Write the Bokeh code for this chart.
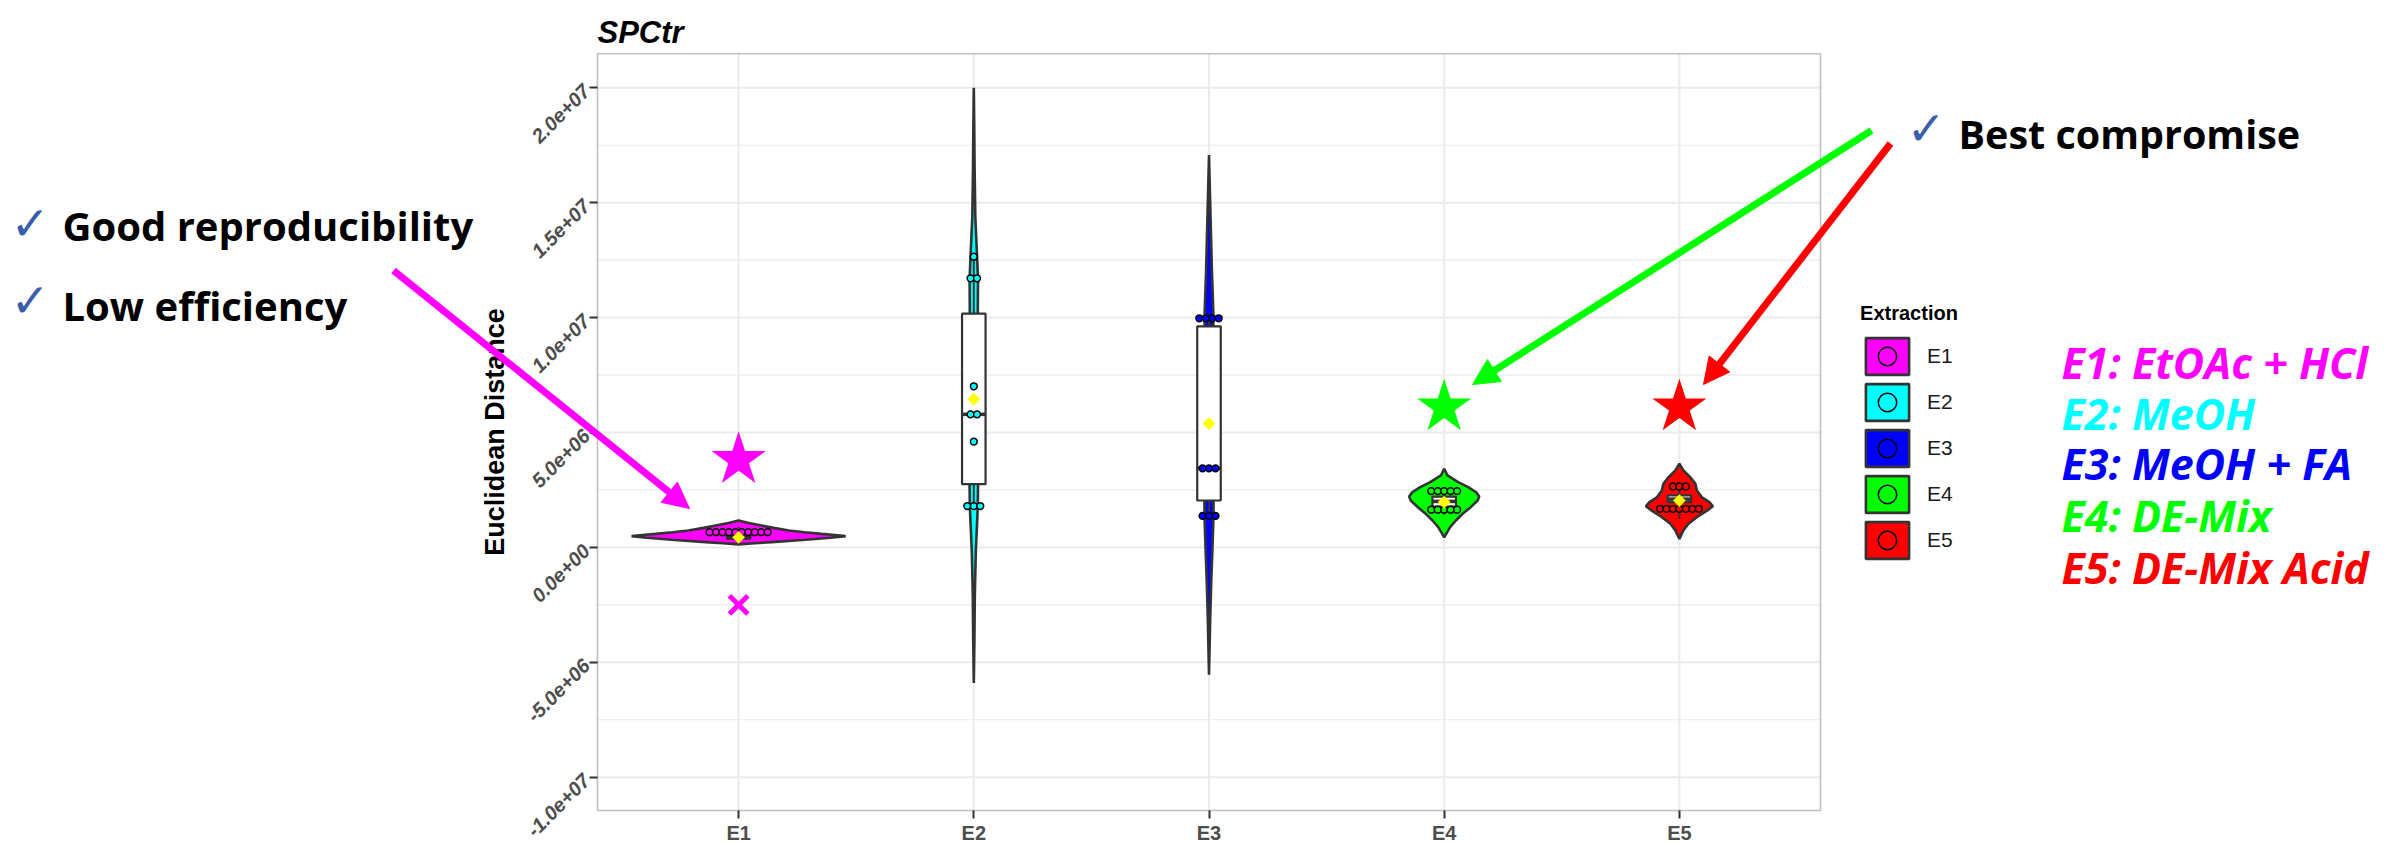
import math
from collections import Counter

from bokeh.plotting import figure
from bokeh.models import (FixedTicker, Label, Arrow, NormalHead, Legend, LegendItem,
                          Range1d, LinearAxis, BoxAnnotation)
from bokeh.embed import file_html
from bokeh.resources import INLINE

# ---------------- data (values in units of 1e6) ----------------
UNIT = 1e6
categories = ["E1", "E2", "E3", "E4", "E5"]
colors = ["#FF00FF", "#00FFFF", "#0000FF", "#00FF00", "#FF0000"]
descriptions = ["E1: EtOAc + HCl", "E2: MeOH", "E3: MeOH + FA",
                "E4: DE-Mix", "E5: DE-Mix Acid"]

# violin outlines: value, half width (category units)
violin_y_e1 = [0.13, 0.18, 0.23, 0.33, 0.42, 0.49, 0.54, 0.59, 0.66, 0.735, 0.85, 0.95, 1.06, 1.17]
violin_w_e1 = [0.0, 0.068, 0.140, 0.285, 0.391, 0.455, 0.408, 0.353, 0.281, 0.213, 0.149, 0.098, 0.043, 0.0]
violin_y_e2 = [-5.9, -4.0, -2.1, -0.2, 1.0, 1.8, 2.65, 4.0, 6.0, 8.0, 10.3, 11.67, 12.65, 14.4, 16.5, 18.5, 20.0]
violin_w_e2 = [0.0, 0.0026, 0.0043, 0.0085, 0.0136, 0.0170, 0.0179, 0.0179, 0.0191, 0.0183, 0.0170, 0.0179, 0.0140, 0.0064, 0.0034, 0.0017, 0.0]
violin_y_e3 = [-5.54, -4.3, -3.07, -1.4, 0.26, 1.37, 2.5, 5.0, 8.0, 10.25, 11.9, 13.58, 15.3, 17.08]
violin_w_e3 = [0.0, 0.0026, 0.0051, 0.0098, 0.0157, 0.0191, 0.0196, 0.0179, 0.0191, 0.0183, 0.0128, 0.0085, 0.0043, 0.0]
violin_y_e4 = [0.44, 0.59, 0.88, 1.17, 1.46, 1.75, 2.04, 2.21, 2.40, 2.62, 2.84, 3.13, 3.42]
violin_w_e4 = [0.0, 0.0085, 0.0255, 0.0497, 0.0787, 0.1127, 0.1424, 0.1488, 0.1361, 0.1020, 0.0595, 0.0140, 0.0]
violin_y_e5 = [0.37, 0.74, 1.03, 1.31, 1.61, 1.79, 1.97, 2.18, 2.48, 2.77, 3.05, 3.35, 3.64]
violin_w_e5 = [0.0, 0.0170, 0.0383, 0.0744, 0.1190, 0.1424, 0.1276, 0.0957, 0.0744, 0.0680, 0.0468, 0.0170, 0.0]

# dotplot (binned values)
dots_e1 = [0.66, 0.66, 0.66, 0.66, 0.66, 0.66, 0.66, 0.66, 0.66, 0.66]
dots_e2 = [12.65, 11.71, 11.71, 7.01, 5.79, 5.79, 4.60, 1.80, 1.80, 1.80]
dots_e3 = [9.97, 9.97, 9.97, 9.97, 3.44, 3.44, 3.44, 1.37, 1.37, 1.37]
dots_e4 = [2.45, 2.45, 2.45, 2.45, 2.45, 1.64, 1.64, 1.64, 1.64, 1.64]
dots_e5 = [2.65, 2.65, 2.65, 1.68, 1.68, 1.68, 1.68, 1.68, 1.68, 1.68]

# box plots and means
whisker_low = [0.25, 1.80, 1.37, 1.43, 1.24]
box_q1 = [0.38, 2.75, 2.04, 1.78, 1.97]
box_median = [0.45, 5.79, 3.44, 2.00, 2.10]
box_q3 = [0.55, 10.17, 9.62, 2.21, 2.26]
whisker_high = [0.90, 12.65, 9.97, 2.55, 2.65]
means = [0.44, 6.45, 5.39, 1.97, 2.04]

# highlighted markers
star_cats = ["E1", "E4", "E5"]
star_values = [3.81, 6.10, 6.10]
cross_cats = ["E1"]
cross_values = [-2.5]

y_ticks = [-10, -5, 0, 5, 10, 15, 20]
y_tick_labels = ["-1.0e+07", "-5.0e+06", "0.0e+00", "5.0e+06", "1.0e+07", "1.5e+07", "2.0e+07"]

violins = [(violin_y_e1, violin_w_e1), (violin_y_e2, violin_w_e2), (violin_y_e3, violin_w_e3),
           (violin_y_e4, violin_w_e4), (violin_y_e5, violin_w_e5)]
dots = [dots_e1, dots_e2, dots_e3, dots_e4, dots_e5]

# ---------------- geometry ----------------
W, H = 2400, 842                 # canvas size (page has no margin)
XP0, XP1 = 0.4, 5.6              # panel data limits
YP0, YP1 = -11.45 * UNIT, 21.48 * UNIT
PL, PR, PT, PB = 597.0, 1820.0, 53.3, 810.0   # panel edges on the page
SX = (PR - PL) / (XP1 - XP0)
SY = (PB - PT) / (YP1 - YP0)
x_range = Range1d(XP0 - PL / SX, XP1 + (W - PR) / SX)
y_range = Range1d(YP0 - (H - PB) / SY, YP1 + PT / SY)


def data_x(px):
    return XP0 + (px - PL) / SX


def data_y(py):
    return YP1 - (py - PT) / SY


p = figure(width=W, height=H, x_range=x_range, y_range=y_range,
           output_backend="svg", toolbar_location=None,
           x_axis_location=None, y_axis_location=None,
           min_border_left=0, min_border_right=0, min_border_top=0, min_border_bottom=0)
p.grid.visible = False
p.background_fill_color = "white"
p.border_fill_color = "white"
p.outline_line_color = None

xpos = {c: i + 1 for i, c in enumerate(categories)}

# grid lines of the panel
GRID = "#EBEBEB"
p.segment(x0=XP0, x1=XP1, y0=[(t + 2.5) * UNIT for t in y_ticks[:-1]],
          y1=[(t + 2.5) * UNIT for t in y_ticks[:-1]], line_color=GRID, line_width=1.2)
p.segment(x0=XP0, x1=XP1, y0=[t * UNIT for t in y_ticks], y1=[t * UNIT for t in y_ticks],
          line_color=GRID, line_width=2)
p.segment(x0=[xpos[c] for c in categories], x1=[xpos[c] for c in categories],
          y0=YP0, y1=YP1, line_color=GRID, line_width=2)

# axes fixed at the panel edges
yaxis = LinearAxis(fixed_location=XP0, bounds=(YP0, YP1),
                   ticker=FixedTicker(ticks=[int(t * UNIT) for t in y_ticks]))
yaxis.major_label_overrides = {int(t * UNIT): lab for t, lab in zip(y_ticks, y_tick_labels)}
xaxis = LinearAxis(fixed_location=YP0, bounds=(XP0, XP1),
                   ticker=FixedTicker(ticks=[xpos[c] for c in categories]))
xaxis.major_label_overrides = {xpos[c]: c for c in categories}
for ax in (xaxis, yaxis):
    ax.axis_line_color = None
    ax.major_tick_line_color = "#333333"
    ax.major_tick_line_width = 2
    ax.major_tick_in = 0
    ax.major_tick_out = 8
    ax.minor_tick_line_color = None
    ax.major_label_text_color = "#4D4D4D"
    ax.major_label_text_font = "Liberation Sans"
    ax.major_label_text_font_size = "20px"
    ax.major_label_text_font_style = "bold"
    ax.major_label_standoff = 3
yaxis.major_label_text_font_style = "bold italic"
yaxis.major_label_orientation = math.pi / 4
yaxis.axis_label = "Euclidean Distance"
yaxis.axis_label_text_font = "Liberation Sans"
yaxis.axis_label_text_font_size = "27px"
yaxis.axis_label_text_font_style = "bold"
yaxis.axis_label_text_color = "black"
yaxis.axis_label_standoff = 7
p.add_layout(yaxis, "left")
p.add_layout(xaxis, "below")

OUTLINE = "#333333"
BOX_W = 0.1
DOT_STEP = 0.0275   # stacking step of the dots in category units

legend_items = []
for i, cat in enumerate(categories):
    cx = xpos[cat]
    vy, vw = violins[i]
    xs = [cx + w for w in vw] + [cx - w for w in reversed(vw)]
    ys = [v * UNIT for v in vy] + [v * UNIT for v in reversed(vy)]
    vr = p.patch(xs, ys, fill_color=colors[i], line_color=OUTLINE, line_width=2.6)

    p.segment(x0=[cx, cx], y0=[whisker_low[i] * UNIT, box_q3[i] * UNIT],
              x1=[cx, cx], y1=[box_q1[i] * UNIT, whisker_high[i] * UNIT],
              line_color=OUTLINE, line_width=2)
    p.quad(left=[cx - BOX_W / 2], right=[cx + BOX_W / 2], bottom=[box_q1[i] * UNIT],
           top=[box_q3[i] * UNIT], fill_color="white", line_color=OUTLINE, line_width=2.2)
    p.segment(x0=[cx - BOX_W / 2], y0=[box_median[i] * UNIT], x1=[cx + BOX_W / 2],
              y1=[box_median[i] * UNIT], line_color=OUTLINE, line_width=3.5)

    counts = Counter(dots[i])
    dx, dy = [], []
    for val, n in counts.items():
        for k in range(n):
            dx.append(cx + (k - (n - 1) / 2) * DOT_STEP)
            dy.append(val * UNIT)
    dr = p.scatter(dx, dy, marker="circle", size=6.8, fill_color=colors[i],
                   line_color="black", line_width=1.5)

    p.scatter([cx], [means[i] * UNIT], marker="square", angle=math.pi / 4, size=9,
              fill_color="#FFFF00", line_color=None)
    legend_items.append(LegendItem(label=cat, renderers=[vr, dr]))

star_colors = [colors[categories.index(c)] for c in star_cats]
p.scatter([xpos[c] for c in star_cats], [v * UNIT for v in star_values], marker="star",
          size=57, fill_color=star_colors, line_color=None)
cross_colors = [colors[categories.index(c)] for c in cross_cats]
p.scatter([xpos[c] for c in cross_cats], [v * UNIT for v in cross_values], marker="x",
          size=26, line_color=cross_colors, line_width=5)

# panel border
p.add_layout(BoxAnnotation(left=XP0, right=XP1, bottom=YP0, top=YP1, fill_alpha=0,
                           line_color="#333333", line_width=1.6))

# legend (area glyphs are drawn with a 10% inset inside the glyph box)
GW, GH = 54, 46
legend = Legend(items=legend_items,
                location=(1865.5 - 0.1 * GW, H - (540 + GH / 2)))
legend.title = "Extraction"
legend.title_text_font = "Liberation Sans"
legend.title_text_font_size = "20px"
legend.title_text_font_style = "bold"
legend.title_text_color = "black"
legend.title_standoff = 8
legend.label_text_font = "Liberation Sans"
legend.label_text_font_size = "21px"
legend.label_text_color = "#1A1A1A"
legend.glyph_width = GW
legend.glyph_height = GH
legend.label_height = GH
legend.label_standoff = 13
legend.spacing = 0
legend.padding = 0
legend.margin = 0
legend.background_fill_alpha = 0
legend.border_line_alpha = 0
p.add_layout(legend, "center")

# ---------------- annotations ----------------
p.add_layout(Label(x=data_x(597), y=data_y(32), text="SPCtr", text_font="Liberation Sans",
                   text_font_size="31px", text_font_style="bold italic", text_color="black",
                   text_baseline="alphabetic"))

arrows = [("#FF00FF", 393, 270, 689, 508),
          ("#00FF00", 1871, 130, 1472, 384),
          ("#FF0000", 1890, 143, 1703, 384)]
for c, xs_, ys_, xe, ye in arrows:
    p.add_layout(Arrow(end=NormalHead(size=26, fill_color=c, line_color=c, line_width=1),
                       x_start=data_x(xs_), y_start=data_y(ys_),
                       x_end=data_x(xe), y_end=data_y(ye),
                       line_color=c, line_width=7))

CHECK = "#3A5EAB"
notes = [(10, 223, 62, 225, "Good reproducibility", "40px"),
         (10, 300, 62, 305, "Low efficiency", "40px"),
         (1906, 128, 1958, 133, "Best compromise", "39.5px")]
for cxp, cyp, tx, ty, txt, fs in notes:
    p.add_layout(Label(x=data_x(cxp), y=data_y(cyp), text="\u2713", text_font="DejaVu Sans",
                       text_font_size="47px", text_color=CHECK, text_baseline="alphabetic"))
    p.add_layout(Label(x=data_x(tx), y=data_y(ty), text=txt, text_font="Open Sans",
                       text_font_size=fs, text_font_style="bold", text_color="black",
                       text_baseline="alphabetic"))

desc_baselines = [362, 413, 463, 515, 567]
for i, txt in enumerate(descriptions):
    p.add_layout(Label(x=data_x(2061), y=data_y(desc_baselines[i]), text=txt,
                       text_font="Open Sans", text_font_size="43px",
                       text_font_style="bold italic", text_color=colors[i],
                       text_baseline="alphabetic"))

open("out.html", "w").write(file_html(p, INLINE))
